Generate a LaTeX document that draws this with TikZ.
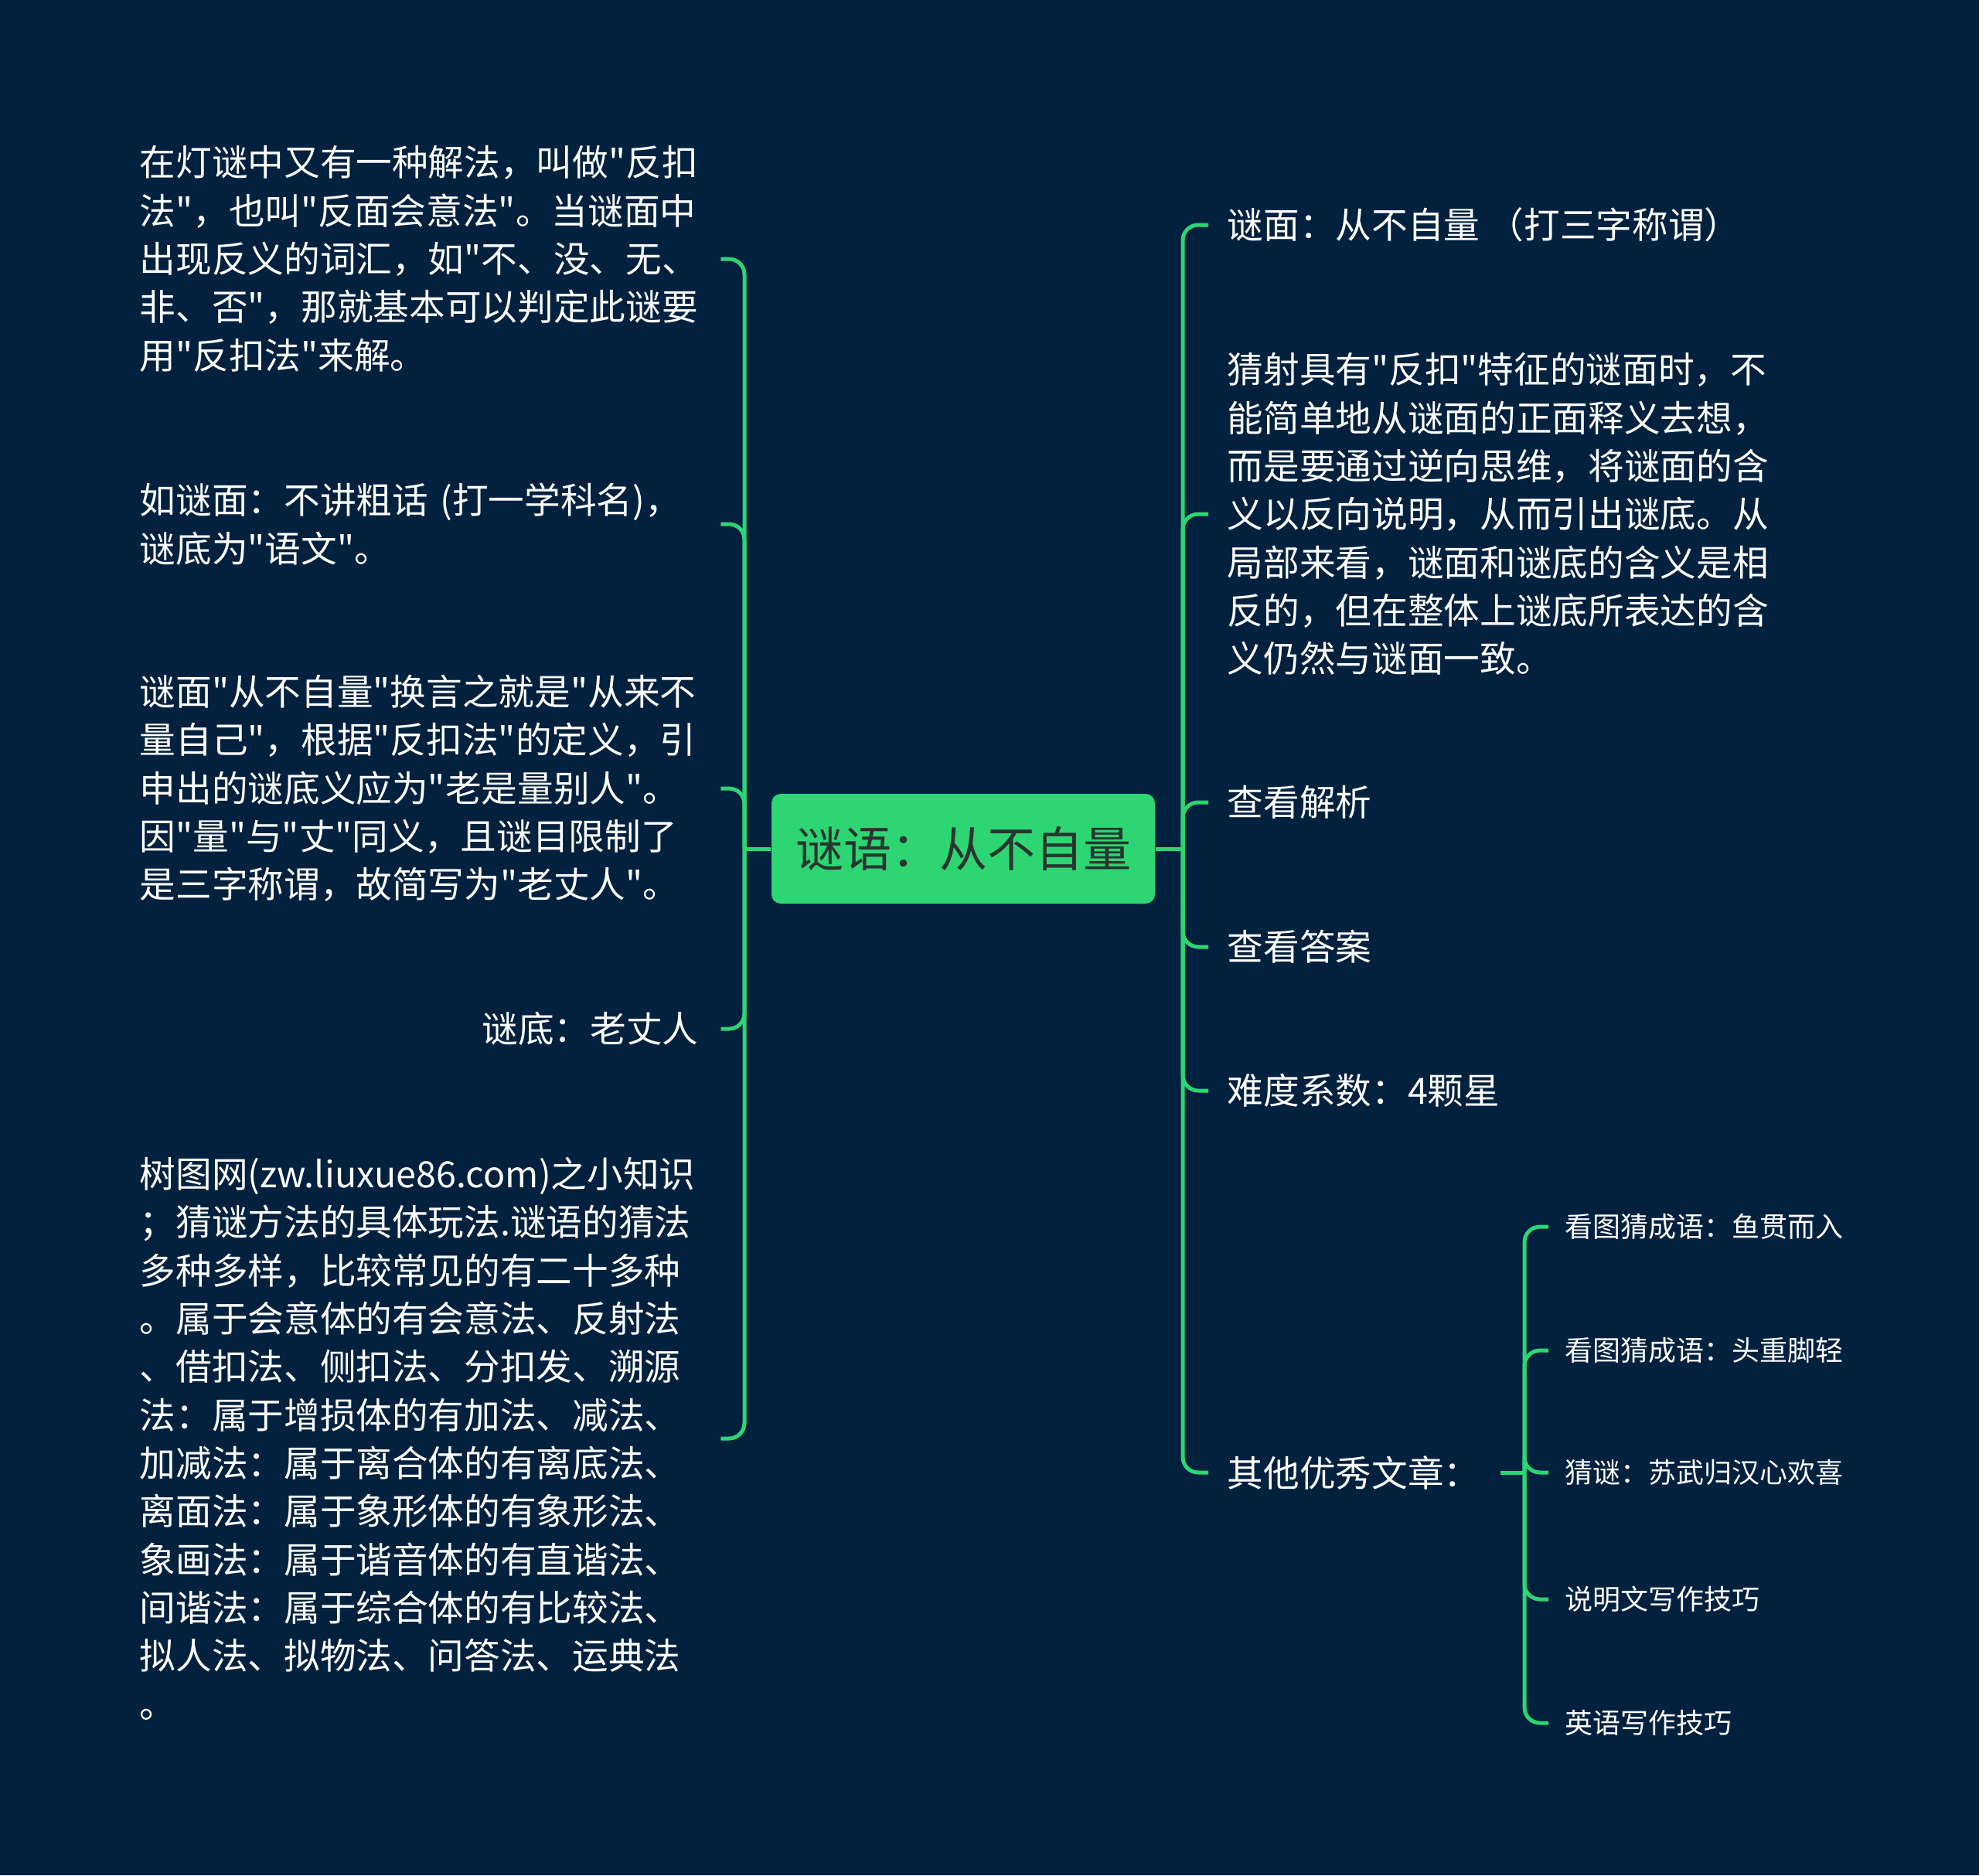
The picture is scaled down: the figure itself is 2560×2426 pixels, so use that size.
\documentclass[tikz,border=0pt]{standalone}
\usepackage{fontspec}
\setmainfont{Noto Sans CJK SC}[Ligatures=TeXOff]
\definecolor{bg}{RGB}{1,33,63}
\definecolor{lg}{RGB}{46,213,115}
\definecolor{ctext}{RGB}{40,52,48}
\tikzset{
  conn/.style={draw=lg, line width=1.5pt, rounded corners=6pt},
  leaf/.style={text=white, font=\fontsize{14pt}{18.7pt}\selectfont, inner sep=0pt, align=left},
  lleaf/.style={leaf, text width=216.9pt, anchor=west},
  rleaf/.style={leaf, anchor=west},
  small/.style={text=white, font=\fontsize{10.8pt}{14pt}\selectfont, inner sep=0pt, anchor=west},
  root/.style={fill=lg, rounded corners=3.6pt, text=ctext, font=\fontsize{18.6pt}{22pt}\selectfont,
    minimum width=148.8pt, minimum height=42.6pt, inner sep=0pt}
}
\begin{document}
\begin{tikzpicture}[x=0.3pt,y=-0.3pt]
\fill[bg] (0,0) rectangle (2560,2426);
\useasboundingbox (0,0) rectangle (2560,2426);

\node[root] (root) at (1246,1098) {谜语：从不自量};

% left side
\node[lleaf] (l1) at (180,335) {在灯谜中又有一种解法，叫做"反扣\\法"，也叫"反面会意法"。当谜面中\\出现反义的词汇，如"不、没、无、\\非、否"，那就基本可以判定此谜要\\用"反扣法"来解。};
\node[lleaf] (l2) at (180,678) {如谜面：不讲粗话 (打一学科名)，\\谜底为"语文"。};
\node[lleaf] (l3) at (180,1020) {谜面"从不自量"换言之就是"从来不\\量自己"，根据"反扣法"的定义，引\\申出的谜底义应为"老是量别人"。\\因"量"与"丈"同义，且谜目限制了\\是三字称谓，故简写为"老丈人"。};
\node[lleaf, align=right] (l4) at (180,1331) {谜底：老丈人};
\node[lleaf] (l5) at (180,1861) {树图网(zw.liuxue86.com)之小知识\\；猜谜方法的具体玩法.谜语的猜法\\多种多样，比较常见的有二十多种\\。属于会意体的有会意法、反射法\\、借扣法、侧扣法、分扣发、溯源\\法：属于增损体的有加法、减法、\\加减法：属于离合体的有离底法、\\离面法：属于象形体的有象形法、\\象画法：属于谐音体的有直谐法、\\间谐法：属于综合体的有比较法、\\拟人法、拟物法、问答法、运典法\\。};

% right side
\node[rleaf] (r1) at (1587,291) {谜面：从不自量 （打三字称谓）};
\node[rleaf] (r2) at (1587,665) {猜射具有"反扣"特征的谜面时，不\\能简单地从谜面的正面释义去想，\\而是要通过逆向思维，将谜面的含\\义以反向说明，从而引出谜底。从\\局部来看，谜面和谜底的含义是相\\反的，但在整体上谜底所表达的含\\义仍然与谜面一致。};
\node[rleaf] (r3) at (1587,1038) {查看解析};
\node[rleaf] (r4) at (1587,1225) {查看答案};
\node[rleaf] (r5) at (1587,1411) {难度系数：4颗星};
\node[rleaf] (r6) at (1587,1905) {其他优秀文章：};

% sub items
\node[small] (s1) at (2024,1587) {看图猜成语：鱼贯而入};
\node[small] (s2) at (2024,1747) {看图猜成语：头重脚轻};
\node[small] (s3) at (2024,1905) {猜谜：苏武归汉心欢喜};
\node[small] (s4) at (2024,2069) {说明文写作技巧};
\node[small] (s5) at (2024,2229) {英语写作技巧};

% connectors
\coordinate (lt) at (963,1098);
\coordinate (rt) at (1530,1098);
\coordinate (st) at (1972,1905);
\draw[conn] (root.west) -- (lt);
\draw[conn] (root.east) -- (rt);
\foreach \n in {l1,l2,l3,l4,l5}
  \draw[conn] (lt) |- ([xshift=8.4pt]\n.east);
\foreach \n in {r1,r2,r3,r4,r5,r6}
  \draw[conn] (rt) |- ([xshift=-7.2pt]\n.west);
\draw[conn] ([xshift=7.8pt]r6.east) -- (st);
\foreach \n in {s1,s2,s3,s4,s5}
  \draw[conn] (st) |- ([xshift=-6.3pt]\n.west);
\end{tikzpicture}
\end{document}
